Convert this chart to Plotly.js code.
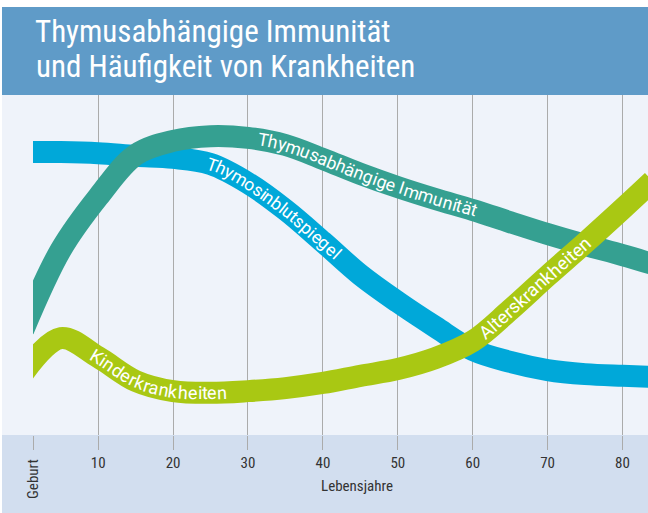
<!DOCTYPE html>
<html>
<head>
<meta charset="utf-8">
<script src="https://cdn.plot.ly/plotly-3.0.1.min.js"></script>
<style>
  html, body { margin: 0; padding: 0; background: #ffffff; }
  #chart { width: 648px; height: 513px; }
</style>
</head>
<body>
<div id="chart"></div>
<script>
// ---- data ----
const ages = [0, 5, 10, 15, 20, 25, 30, 35, 40, 45, 50, 55, 60, 65, 70, 75, 80, 84];
const thymosinblutspiegel = [83.2, 83.2, 82.9, 82.1, 81.5, 79.7, 74.1, 66.2, 56.8, 47.1, 39.1, 31.8, 25.0, 21.5, 19.1, 17.9, 17.4, 17.1];
const immunitaet = [30.9, 54.4, 70.0, 82.4, 86.5, 87.9, 87.4, 85.3, 81.2, 76.8, 72.9, 69.4, 66.2, 62.6, 59.1, 55.9, 52.9, 50.3];
const krankheiten = [18.2, 28.5, 22.9, 15.9, 12.9, 12.4, 12.9, 13.8, 15.3, 17.4, 19.4, 22.6, 27.6, 36.8, 46.8, 56.5, 66.5, 74.7];
const tickVals = [1.3, 10, 20, 30, 40, 50, 60, 70, 80];
const tickLabels = ['Geburt', '10', '20', '30', '40', '50', '60', '70', '80'];
const titleLines = ['Thymusabhängige Immunität', 'und Häufigkeit von Krankheiten'];
const xTitle = 'Lebensjahre';
// curve labels: trace index, start / end pixel x
const curveLabels = [
  { text: 'Thymosinblutspiegel', trace: 0, x0: 207, x1: 338 },
  { text: 'Thymusabhängige Immunität', trace: 1, x0: 258, x1: 477 },
  { text: 'Kinderkrankheiten', trace: 2, x0: 92, x1: 227 },
  { text: 'Alterskrankheiten', trace: 2, x0: 481, x1: 588 }
];

const BLUE = '#00a8d9', TEAL = '#35a091', GREEN = '#a9c813';
const condensed = '"Liberation Sans Narrow", "Roboto Condensed", "DejaVu Sans Condensed", Roboto, sans-serif';

const traces = [
  { x: ages, y: thymosinblutspiegel, name: 'Thymosinblutspiegel', mode: 'lines', line: { color: BLUE, width: 22, shape: 'spline' }, hoverinfo: 'skip' },
  { x: ages, y: immunitaet, name: 'Thymusabhängige Immunität', mode: 'lines', line: { color: TEAL, width: 22, shape: 'spline' }, hoverinfo: 'skip' },
  { x: ages, y: krankheiten, name: 'Krankheiten', mode: 'lines', line: { color: GREEN, width: 22, shape: 'spline' }, hoverinfo: 'skip' }
];

const L = 33, R = 0, T = 95, B = 78;
const PW = 648 - L - R, PH = 513 - T - B;
const px2paperX = p => (p - L) / PW;
const px2paperY = p => (513 - B - p) / PH;

const baseAnnotations = [
  { xref: 'paper', yref: 'paper', x: px2paperX(34), y: px2paperY(66), text: titleLines[1],
    showarrow: false, xanchor: 'left', yanchor: 'middle', font: { family: condensed, size: 31, color: '#ffffff' } },
  { xref: 'x', yref: 'paper', x: tickVals[0], y: px2paperY(479), text: tickLabels[0], textangle: -90,
    showarrow: false, xanchor: 'center', yanchor: 'middle', font: { family: condensed, size: 15, color: '#333333' } },
  { xref: 'paper', yref: 'paper', x: px2paperX(357), y: px2paperY(486), text: xTitle,
    showarrow: false, xanchor: 'center', yanchor: 'middle', font: { family: condensed, size: 15, color: '#333333' } }
];

const layout = {
  width: 648, height: 513,
  margin: { l: L, r: R, t: T, b: B, pad: 0 },
  paper_bgcolor: '#ffffff',
  plot_bgcolor: '#eff3fa',
  showlegend: false,
  title: {
    text: titleLines[0],
    font: { family: condensed, size: 31, color: '#ffffff' },
    xref: 'container', yref: 'container', x: 35 / 648, xanchor: 'left', y: 1 - 31 / 513, yanchor: 'middle'
  },
  xaxis: {
    range: [1.3, 83.4], tickmode: 'array', tickvals: tickVals,
    ticktext: tickLabels.map((t, i) => i === 0 ? '' : t),
    showgrid: true, gridcolor: '#ababab', gridwidth: 1,
    ticks: 'outside', ticklen: 14, tickwidth: 1, tickcolor: '#ababab',
    zeroline: false, showline: false, fixedrange: true,
    tickfont: { family: condensed, size: 15, color: '#333333' }
  },
  yaxis: { range: [0, 100], visible: false, fixedrange: true },
  shapes: [
    { type: 'rect', xref: 'paper', yref: 'paper', x0: px2paperX(2), x1: 1, y0: 1, y1: px2paperY(7), fillcolor: '#5f9bc8', line: { width: 0 }, layer: 'below' },
    { type: 'rect', xref: 'paper', yref: 'paper', x0: px2paperX(2), x1: 1, y0: px2paperY(513), y1: 0, fillcolor: '#d2deef', line: { width: 0 }, layer: 'below' },
    { type: 'rect', xref: 'paper', yref: 'paper', x0: px2paperX(2), x1: 0, y0: 0, y1: 1, fillcolor: '#eff3fa', line: { width: 0 }, layer: 'below' }
  ],
  annotations: baseAnnotations
};

function labelAnnotations(gd) {
  const size = gd._fullLayout._size;
  const paths = gd.querySelectorAll('.scatterlayer .trace path.js-line');
  const ctx = document.createElement('canvas').getContext('2d');
  const out = [];
  curveLabels.forEach(lb => {
    const p = paths[lb.trace];
    if (!p) return;
    const total = p.getTotalLength();
    const findS = xt => {
      for (let s = 0; s <= total; s += 0.25) {
        if (p.getPointAtLength(s).x + size.l >= xt) return s;
      }
      return total;
    };
    const s0 = findS(lb.x0), s1 = findS(lb.x1);
    const chars = Array.from(lb.text);
    ctx.font = '16px Roboto';
    const nat = chars.reduce((a, c) => a + ctx.measureText(c).width, 0);
    let fs = 16 * (s1 - s0) / nat;
    fs = Math.max(13, Math.min(19, fs));
    ctx.font = fs + 'px Roboto';
    const widths = chars.map(c => ctx.measureText(c).width);
    const sum = widths.reduce((a, b) => a + b, 0);
    const extra = (s1 - s0 - sum) / Math.max(1, chars.length - 1);
    let s = s0;
    chars.forEach((c, i) => {
      const w = widths[i];
      const sc = s + w / 2;
      s += w + extra;
      if (c === ' ') return;
      const pt = p.getPointAtLength(sc);
      const a = p.getPointAtLength(Math.max(0, sc - 2));
      const b = p.getPointAtLength(Math.min(total, sc + 2));
      const ang = Math.atan2(b.y - a.y, b.x - a.x) * 180 / Math.PI;
      out.push({
        xref: 'paper', yref: 'paper', x: pt.x / size.w, y: 1 - pt.y / size.h,
        text: c, textangle: ang, showarrow: false, xanchor: 'center', yanchor: 'middle',
        borderpad: 0, font: { family: 'Roboto, sans-serif', size: fs, color: '#ffffff' }
      });
    });
  });
  return out;
}

Plotly.newPlot('chart', traces, layout, { displayModeBar: false, responsive: false }).then(gd => {
  return Plotly.relayout(gd, { annotations: baseAnnotations.concat(labelAnnotations(gd)) });
});
</script>
</body>
</html>
